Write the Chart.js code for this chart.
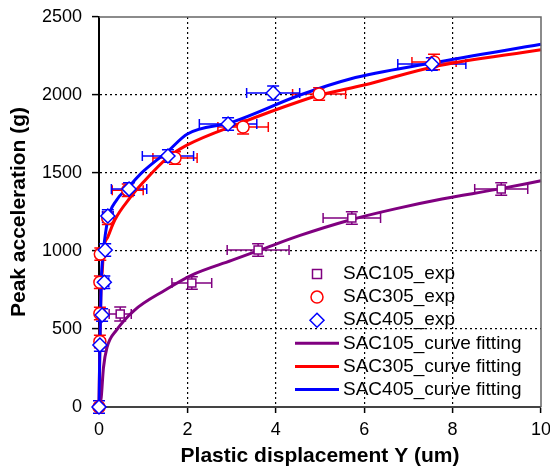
<!DOCTYPE html>
<html>
<head>
<meta charset="utf-8">
<script src="https://cdn.jsdelivr.net/npm/chart.js@4.4.0/dist/chart.umd.min.js"></script>
<style>
  html, body { margin: 0; padding: 0; background: #fff; }
  #wrap { width: 550px; height: 473px; }
</style>
</head>
<body>
<div id="wrap"><canvas id="chart" width="550" height="473"></canvas></div>
<script>
// experimental points (x = plastic displacement in um, y = peak acceleration in g)
const sac105X = [0.48, 2.1, 3.6, 5.72, 9.1];
const sac105Y = [596, 795, 1006, 1211, 1397];
const sac105ErrX = [0.25, 0.45, 0.7, 0.65, 0.6];
const sac105ErrY = [45, 40, 40, 40, 40];

const sac305X = [0, 0.02, 0.02, 0.02, 0.03, 0.2, 0.65, 1.72, 3.26, 4.98, 7.58];
const sac305Y = [0, 420, 600, 800, 980, 1210, 1390, 1596, 1795, 2006, 2212];
const sac305ErrX = [0.02, 0.03, 0.04, 0.04, 0.05, 0.1, 0.35, 0.5, 0.57, 0.6, 0.5];
const sac305ErrY = [0, 40, 40, 40, 40, 40, 40, 40, 45, 40, 50];

const sac405X = [0, 0.02, 0.07, 0.12, 0.14, 0.2, 0.68, 1.56, 2.92, 3.94, 7.53];
const sac405Y = [0, 397, 590, 800, 1006, 1224, 1397, 1609, 1814, 2013, 2199];
const sac405ErrX = [0.02, 0.03, 0.05, 0.1, 0.06, 0.12, 0.4, 0.58, 0.65, 0.6, 0.77];
const sac405ErrY = [40, 40, 40, 40, 40, 40, 40, 40, 40, 45, 40];

// curve fitting lines
const fit105X = [0, 0.05, 0.1, 0.18, 0.4, 0.8, 1.5, 2.1, 3, 3.64, 4.55, 5.68, 6.7, 7.76, 9, 10];
const fit105Y = [0, 60, 250, 380, 494, 620, 750, 846, 940, 1006, 1100, 1199, 1270, 1333, 1395, 1450];

const fit305X = [0, 0.02, 0.04, 0.08, 0.1, 0.2, 0.36, 0.7, 1.0, 1.56, 2, 3.2, 4.55, 5, 6, 7.56, 10];
const fit305Y = [0, 400, 700, 900, 1000, 1090, 1200, 1340, 1440, 1600, 1680, 1820, 1960, 2000, 2064, 2180, 2290];

const fit405X = [0, 0.02, 0.05, 0.1, 0.2, 0.4, 0.65, 1.0, 1.56, 2.0, 3.0, 4.55, 5.68, 7.53, 10];
const fit405Y = [0, 400, 800, 1000, 1200, 1327, 1405, 1510, 1640, 1750, 1825, 2000, 2103, 2205, 2325];

const xTicks = [0, 2, 4, 6, 8, 10];
const yTicks = [0, 500, 1000, 1500, 2000, 2500];

const PURPLE = '#800080';
const RED = '#ff0000';
const BLUE = '#0000ff';
const FONT = '"Liberation Sans", Arial, sans-serif';

function pts(xs, ys) {
  return xs.map((x, i) => ({ x: x, y: ys[i] }));
}

// error bars, drawn under everything else
const errorBars = {
  id: 'errorBars',
  beforeDatasetsDraw(chart) {
    const ctx = chart.ctx;
    const xs = chart.scales.x, ys = chart.scales.y;
    chart.data.datasets.forEach((ds) => {
      if (!ds.errX) return;
      ctx.save();
      ctx.strokeStyle = ds.borderColor;
      ctx.lineWidth = 1.5;
      ds.data.forEach((p, i) => {
        const px = xs.getPixelForValue(p.x), py = ys.getPixelForValue(p.y);
        const ex = ds.errX[i], ey = ds.errY[i];
        ctx.beginPath();
        if (ex) {
          const x1 = xs.getPixelForValue(p.x - ex), x2 = xs.getPixelForValue(p.x + ex);
          ctx.moveTo(x1, py); ctx.lineTo(x2, py);
          ctx.moveTo(x1, py - 5); ctx.lineTo(x1, py + 5);
          ctx.moveTo(x2, py - 5); ctx.lineTo(x2, py + 5);
        }
        if (ey) {
          const y1 = ys.getPixelForValue(p.y - ey), y2 = ys.getPixelForValue(p.y + ey);
          ctx.moveTo(px, y1); ctx.lineTo(px, y2);
          ctx.moveTo(px - 6, y1); ctx.lineTo(px + 6, y1);
          ctx.moveTo(px - 6, y2); ctx.lineTo(px + 6, y2);
        }
        ctx.stroke();
      });
      ctx.restore();
    });
  }
};

// gray frame on top / right, and the legend inside the plot
const frameAndLegend = {
  id: 'frameAndLegend',
  afterDraw(chart) {
    const ctx = chart.ctx;
    const a = chart.chartArea;
    ctx.save();
    ctx.strokeStyle = '#666';
    ctx.lineWidth = 1.5;
    ctx.beginPath();
    ctx.moveTo(a.left, a.top); ctx.lineTo(a.right, a.top); ctx.lineTo(a.right, a.bottom);
    ctx.stroke();

    const textX = 343, symX = 317, rowY = 274, rowH = 23.1;
    ctx.font = '19px ' + FONT;
    ctx.textBaseline = 'middle';
    ctx.textAlign = 'left';
    chart.data.datasets.forEach((ds, k) => {
      const y = rowY + k * rowH;
      ctx.strokeStyle = ds.borderColor;
      ctx.fillStyle = '#fff';
      if (ds.showLine) {
        ctx.lineWidth = 3;
        ctx.beginPath();
        ctx.moveTo(symX - 22, y); ctx.lineTo(symX + 22, y);
        ctx.stroke();
      } else {
        ctx.lineWidth = 1.5;
        ctx.beginPath();
        if (ds.pointStyle === 'rect') {
          ctx.rect(symX - 4.5, y - 4.5, 9, 9);
        } else if (ds.pointStyle === 'circle') {
          ctx.arc(symX, y, 6, 0, Math.PI * 2);
        } else {
          ctx.moveTo(symX, y - 7); ctx.lineTo(symX + 7, y); ctx.lineTo(symX, y + 7); ctx.lineTo(symX - 7, y); ctx.closePath();
        }
        ctx.fill();
        ctx.stroke();
      }
      ctx.fillStyle = '#000';
      ctx.fillText(ds.label, textX, y);
    });
    ctx.restore();
  }
};

// lower order = drawn later (on top)
const expStyle = (color, style, r, order) => ({
  showLine: false,
  order: order,
  borderColor: color,
  backgroundColor: '#fff',
  pointStyle: style,
  pointRadius: r,
  pointHoverRadius: r,
  pointBorderWidth: 1.5,
  pointBackgroundColor: '#fff',
  pointBorderColor: color,
  clip: false
});

const fitStyle = (color, order) => ({
  showLine: true,
  order: order,
  borderColor: color,
  backgroundColor: color,
  borderWidth: 3,
  pointRadius: 0,
  cubicInterpolationMode: 'monotone',
  clip: false
});

new Chart(document.getElementById('chart'), {
  type: 'scatter',
  data: {
    datasets: [
      Object.assign({ label: 'SAC105_exp', data: pts(sac105X, sac105Y), errX: sac105ErrX, errY: sac105ErrY }, expStyle(PURPLE, 'rect', 5.7, 2)),
      Object.assign({ label: 'SAC305_exp', data: pts(sac305X, sac305Y), errX: sac305ErrX, errY: sac305ErrY }, expStyle(RED, 'circle', 6, 1)),
      Object.assign({ label: 'SAC405_exp', data: pts(sac405X, sac405Y), errX: sac405ErrX, errY: sac405ErrY }, expStyle(BLUE, 'rectRot', 7, 0)),
      Object.assign({ label: 'SAC105_curve fitting', data: pts(fit105X, fit105Y) }, fitStyle(PURPLE, 5)),
      Object.assign({ label: 'SAC305_curve fitting', data: pts(fit305X, fit305Y) }, fitStyle(RED, 4)),
      Object.assign({ label: 'SAC405_curve fitting', data: pts(fit405X, fit405Y) }, fitStyle(BLUE, 3))
    ]
  },
  options: {
    responsive: false,
    animation: false,
    layout: { padding: { top: 17, right: 9, left: 0, bottom: 0 } },
    plugins: {
      legend: { display: false },
      tooltip: { enabled: false }
    },
    scales: {
      x: {
        type: 'linear',
        min: 0,
        max: 10,
        afterBuildTicks: (scale) => { scale.ticks = xTicks.map(v => ({ value: v })); },
        afterFit: (scale) => { scale.height = 66; scale.paddingLeft = 0; scale.paddingRight = 0; },
        ticks: {
          color: '#000',
          font: { family: FONT, size: 18 },
          padding: 6,
          maxRotation: 0,
          callback: (v) => String(v)
        },
        grid: {
          color: (c) => (c.tick && (c.tick.value === 0 || c.tick.value === 10)) ? 'rgba(0,0,0,0)' : '#000',
          lineWidth: 1.2,
          tickColor: '#000',
          tickLength: 6,
          tickWidth: 1.5
        },
        border: { color: '#444', width: 2, dash: [2, 3] },
        title: {
          display: true,
          text: 'Plastic displacement Y (um)',
          color: '#000',
          font: { family: FONT, size: 21, weight: 'bold' },
          padding: { top: 0, bottom: 4 }
        }
      },
      y: {
        type: 'linear',
        min: 0,
        max: 2500,
        afterBuildTicks: (scale) => { scale.ticks = yTicks.map(v => ({ value: v })); },
        afterFit: (scale) => { scale.width = 99; scale.paddingTop = 0; scale.paddingBottom = 0; },
        ticks: {
          color: '#000',
          font: { family: FONT, size: 18 },
          padding: 10,
          callback: (v) => String(v)
        },
        grid: {
          color: (c) => (c.tick && (c.tick.value === 0 || c.tick.value === 2500)) ? 'rgba(0,0,0,0)' : '#000',
          lineWidth: 1.2,
          tickColor: '#000',
          tickLength: 7,
          tickWidth: 1.5
        },
        border: { color: '#000', width: 2, dash: [2, 3] },
        title: {
          display: true,
          text: 'Peak acceleration (g)',
          color: '#000',
          font: { family: FONT, size: 21, weight: 'bold' },
          padding: { top: 7, bottom: 0 }
        }
      }
    }
  },
  plugins: [errorBars, frameAndLegend]
});
</script>
</body>
</html>
